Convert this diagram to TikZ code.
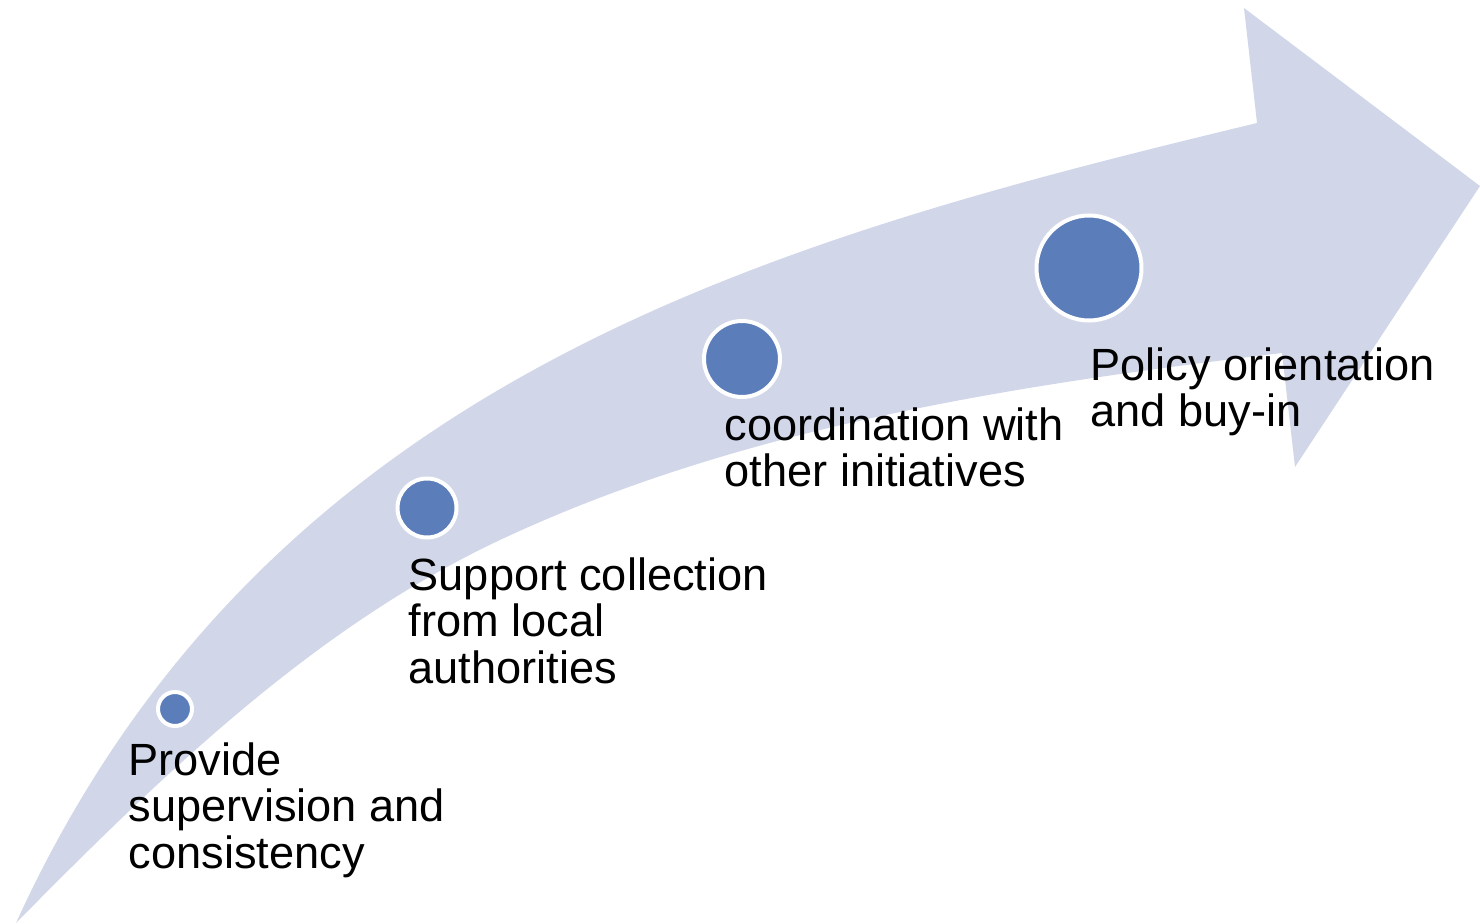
\documentclass[tikz,border=0pt]{standalone}
\usepackage{fontspec}
\setmainfont{Liberation Sans}
\usepackage{tikz}
\definecolor{bandblue}{RGB}{209,215,232}
\definecolor{dotblue}{RGB}{91,125,185}
\tikzstyle{stepdot} = [circle,fill=dotblue,draw=white,line width=0.04cm,inner sep=0pt]
\tikzstyle{steptext} = [anchor=north west,inner sep=0pt,align=left]

\begin{document}
\begin{tikzpicture}[every node/.style={font=\fontsize{12.85}{13.2}\selectfont}]
\useasboundingbox (0,0) rectangle (14.8,9.23);

% --- Arrow ---
\fill[bandblue] (0.16,0.00)
  .. controls (2.65,5.46) and (7.72,6.83) .. (12.57,8.00)
  -- (12.44,9.15) -- (14.80,7.37) -- (12.95,4.56) -- (12.82,5.70)
  .. controls (10.16,5.38) and (7.43,4.97) .. (5.00,3.83)
  .. controls (3.15,2.96) and (1.63,1.49) .. (0.16,0.00) -- cycle;

% --- Steps ---
\foreach \i/\x/\y/\d in {1/1.75/2.14/0.34,2/4.27/4.15/0.59,3/7.42/5.64/0.76,4/10.89/6.55/1.05} {
  \node[stepdot,minimum size=\d cm] (dot\i) at (\x,\y) {};
}

\node[steptext] (txt1) at (1.28,1.81) {Provide\\supervision and\\consistency};
\node[steptext] (txt2) at (4.08,3.66) {Support collection\\from local\\authorities};
\node[steptext] (txt3) at (7.24,5.16) {coordination with\\other initiatives};
\node[steptext] (txt4) at (10.90,5.76) {Policy orientation\\and buy-in};

\end{tikzpicture}
\end{document}
